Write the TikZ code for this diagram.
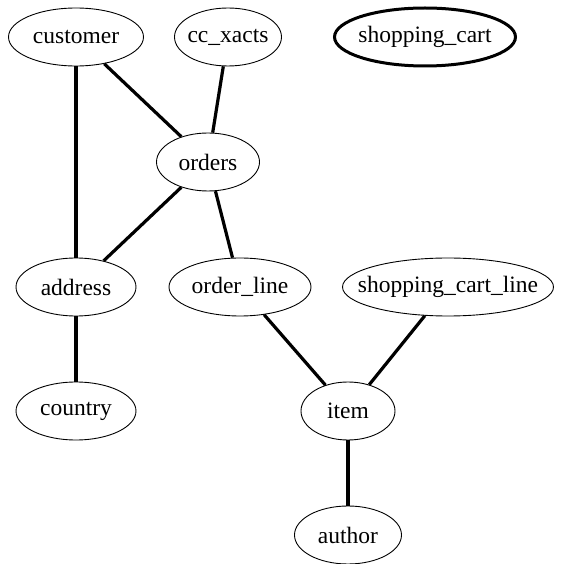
\documentclass[tikz,border=0pt]{standalone}
\usepackage{fontspec}
\setmainfont{Liberation Serif}
\usepackage{tikz}
\usetikzlibrary{shapes.geometric}

\newcommand{\tbl}[1]{\makebox[0pt]{#1}}

\begin{document}
\begin{tikzpicture}[x=1pt, y=-1pt,
    every node/.style={ellipse,draw,line width=0.9pt,inner sep=0pt,minimum height=58pt,font=\fontsize{23.5}{28}\selectfont},
    link/.style={line width=3.2pt}]
    \useasboundingbox (0,0) rectangle (566,564);
    \coordinate (CU) at (76, 37);
    \coordinate (CC) at (228, 37);
    \coordinate (SC) at (425, 37);
    \coordinate (OR) at (208, 162);
    \coordinate (AD) at (76, 287);
    \coordinate (OL) at (240, 287);
    \coordinate (SL) at (448, 287);
    \coordinate (CO) at (76, 411);
    \coordinate (IT) at (348, 411);
    \coordinate (AU) at (348, 535);
    \node[minimum width=135pt] (customer) at (CU) {\tbl{customer}};
    \node[minimum width=107pt] (cc) at (CC) {\tbl{cc\_xacts}};
    \node[minimum width=181pt,line width=3pt] (cart) at (SC) {\tbl{shopping\_cart}};
    \node[minimum width=103pt] (orders) at (OR) {\tbl{orders}};
    \node[minimum width=120pt] (address) at (AD) {\tbl{address}};
    \node[minimum width=142pt] (oline) at (OL) {\tbl{order\_line}};
    \node[minimum width=211pt] (cline) at (SL) {\tbl{shopping\_cart\_line}};
    \node[minimum width=120pt] (country) at (CO) {\tbl{country}};
    \node[minimum width=94pt] (item) at (IT) {\tbl{item}};
    \node[minimum width=107pt] (author) at (AU) {\tbl{author}};
    \draw[link] (customer) -- (address);
    \draw[link] (customer) -- (orders);
    \draw[link] (cc) -- (orders);
    \draw[link] (orders) -- (address);
    \draw[link] (orders) -- (oline);
    \draw[link] (address) -- (country);
    \draw[link] (oline) -- (item);
    \draw[link] (cline) -- (item);
    \draw[link] (item) -- (author);
\end{tikzpicture}
\end{document}
